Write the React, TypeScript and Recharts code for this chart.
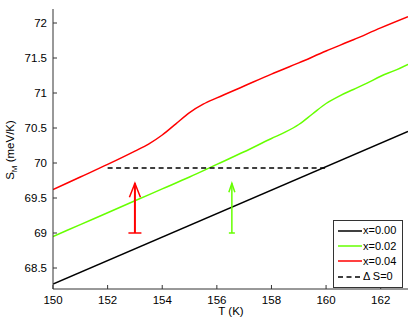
import { LineChart, Line, XAxis, YAxis, Legend } from "recharts";

// temperature (K) and magnetic entropy (meV/K)
const BLACK_T = [150, 163];
const BLACK_S = [68.27, 70.45];

const GREEN_T = [150, 151, 152, 153, 154, 155, 156, 157, 158, 158.5, 159, 159.5, 160, 160.5, 161, 161.5, 162, 162.5, 163];
const GREEN_S = [68.95, 69.12, 69.29, 69.46, 69.63, 69.8, 69.98, 70.16, 70.35, 70.44, 70.55, 70.7, 70.85, 70.96, 71.05, 71.14, 71.24, 71.32, 71.41];

const RED_T = [150, 151, 152, 153, 153.5, 154, 154.5, 155, 155.5, 156, 157, 158, 159, 160, 161, 162, 163];
const RED_S = [69.62, 69.8, 69.98, 70.17, 70.27, 70.4, 70.56, 70.72, 70.84, 70.93, 71.1, 71.27, 71.43, 71.6, 71.76, 71.93, 72.09];

const DS_T = [152, 160];
const DS_S = [69.93, 69.93];

const RED_ARROW_T = [153, 153];
const RED_ARROW_S = [69.0, 69.71];
const GREEN_ARROW_T = [156.55, 156.55];
const GREEN_ARROW_S = [69.0, 69.71];

const X_TICKS = [150, 152, 154, 156, 158, 160, 162];
const Y_TICKS = [68.5, 69, 69.5, 70, 70.5, 71, 71.5, 72];

const toRows = (t: number[], s: number[]) => t.map((T, i) => ({ T, S: s[i] }));

const FONT = "'Liberation Sans', Arial, Helvetica, sans-serif";
const FS = 11.5;
const AXIS = "#333";

function BottomTick({ x, y, payload }: any) {
  return (
    <g>
      <line x1={x} x2={x} y1={y} y2={y - 4} stroke={AXIS} />
      <text x={x} y={y + 15} textAnchor="middle" fontSize={FS} fontFamily={FONT} fill="#000">
        {payload.value}
      </text>
    </g>
  );
}

function LeftTick({ x, y, payload }: any) {
  return (
    <g>
      <line x1={x} x2={x + 4} y1={y} y2={y} stroke={AXIS} />
      <text x={x - 6} y={y + 4} textAnchor="end" fontSize={FS} fontFamily={FONT} fill="#000">
        {payload.value}
      </text>
    </g>
  );
}

function TopTick({ x, y }: any) {
  return <line x1={x} x2={x} y1={y} y2={y + 4} stroke={AXIS} />;
}

function RightTick({ x, y }: any) {
  return <line x1={x} x2={x - 4} y1={y} y2={y} stroke={AXIS} />;
}

function arrowDot(color: string, head: number, headH: number, cap: number) {
  return (props: any) => {
    const { cx, cy, index } = props;
    if (index === 0) {
      return <line key={`c${index}`} x1={cx - cap} x2={cx + cap} y1={cy} y2={cy} stroke={color} strokeWidth={1.5} />;
    }
    return (
      <path
        key={`h${index}`}
        d={`M${cx - head},${cy + headH} L${cx},${cy} L${cx + head},${cy + headH}`}
        fill="none"
        stroke={color}
        strokeWidth={1.5}
      />
    );
  };
}

function renderLegend({ payload }: any) {
  const items = (payload || []).filter((p: any) => p.type !== "none");
  return (
    <div
      style={{
        border: `1px solid ${AXIS}`,
        background: "#fff",
        width: 68,
        height: 64,
        paddingTop: 2,
        boxSizing: "content-box",
        fontFamily: FONT,
        fontSize: 11,
      }}
    >
      {items.map((p: any) => (
        <div key={p.value} style={{ display: "flex", alignItems: "center", height: 15.4 }}>
          <svg width={29} height={6} style={{ display: "block" }}>
            <line
              x1={4}
              x2={28}
              y1={3}
              y2={3}
              stroke={p.color}
              strokeWidth={1.5}
              strokeDasharray={p.payload?.strokeDasharray}
            />
          </svg>
          <span style={{ lineHeight: 1 }}>{p.value}</span>
        </div>
      ))}
    </div>
  );
}

export default function App() {
  return (
    <div style={{ position: "absolute", left: 0, top: 0, background: "#fff" }}>
      <LineChart width={415} height={322} margin={{ top: 9, right: 7, bottom: 0, left: 0 }}>
        <XAxis
          dataKey="T"
          type="number"
          domain={[150, 163]}
          ticks={X_TICKS}
          allowDataOverflow
          height={33}
          tickSize={0}
          tickMargin={0}
          tickLine={false}
          axisLine={{ stroke: AXIS }}
          tick={<BottomTick />}
          label={{
            content: () => (
              <text x={231} y={315} textAnchor="middle" fontSize={FS} fontFamily={FONT} fill="#000">
                T (K)
              </text>
            ),
          }}
        />
        <XAxis
          xAxisId="top"
          orientation="top"
          dataKey="T"
          type="number"
          domain={[150, 163]}
          ticks={X_TICKS}
          allowDataOverflow
          height={0}
          tickSize={0}
          tickMargin={0}
          tickLine={false}
          axisLine={{ stroke: AXIS }}
          tick={<TopTick />}
        />
        <YAxis
          type="number"
          domain={[68.2, 72.2]}
          ticks={Y_TICKS}
          allowDataOverflow
          width={53}
          tickSize={0}
          tickMargin={0}
          tickLine={false}
          axisLine={{ stroke: AXIS }}
          tick={<LeftTick />}
          label={{
            content: () => (
              <text
                transform="translate(14,150) rotate(-90)"
                textAnchor="middle"
                fontSize={FS}
                fontFamily={FONT}
                fill="#000"
              >
                S<tspan fontSize={8} dy={3}>M</tspan>
                <tspan dy={-3}> (meV/K)</tspan>
              </text>
            ),
          }}
        />
        <YAxis
          yAxisId="right"
          orientation="right"
          type="number"
          domain={[68.2, 72.2]}
          ticks={Y_TICKS}
          allowDataOverflow
          width={0}
          tickSize={0}
          tickMargin={0}
          tickLine={false}
          axisLine={{ stroke: AXIS }}
          tick={<RightTick />}
        />
        <Legend
          layout="vertical"
          align="center"
          verticalAlign="middle"
          content={renderLegend}
          wrapperStyle={{ left: 333, top: 220, width: 70, height: 67 }}
        />
        <Line
          data={toRows(BLACK_T, BLACK_S)}
          dataKey="S"
          name="x=0.00"
          type="linear"
          stroke="#000"
          strokeWidth={1.5}
          dot={false}
          isAnimationActive={false}
        />
        <Line
          data={toRows(GREEN_T, GREEN_S)}
          dataKey="S"
          name="x=0.02"
          type="monotone"
          stroke="#66ff00"
          strokeWidth={1.5}
          dot={false}
          isAnimationActive={false}
        />
        <Line
          data={toRows(RED_T, RED_S)}
          dataKey="S"
          name="x=0.04"
          type="monotone"
          stroke="#ff0000"
          strokeWidth={1.5}
          dot={false}
          isAnimationActive={false}
        />
        <Line
          data={toRows(DS_T, DS_S)}
          dataKey="S"
          name="Δ S=0"
          type="linear"
          stroke="#000"
          strokeWidth={1.5}
          strokeDasharray="5 3.5"
          dot={false}
          isAnimationActive={false}
        />
        <Line
          data={toRows(RED_ARROW_T, RED_ARROW_S)}
          dataKey="S"
          name="red arrow"
          legendType="none"
          type="linear"
          stroke="#ff0000"
          strokeWidth={2}
          dot={arrowDot("#ff0000", 5.5, 14, 6.5)}
          isAnimationActive={false}
        />
        <Line
          data={toRows(GREEN_ARROW_T, GREEN_ARROW_S)}
          dataKey="S"
          name="green arrow"
          legendType="none"
          type="linear"
          stroke="#66ff00"
          strokeWidth={1.5}
          dot={arrowDot("#66ff00", 3, 9, 3)}
          isAnimationActive={false}
        />
      </LineChart>
    </div>
  );
}
